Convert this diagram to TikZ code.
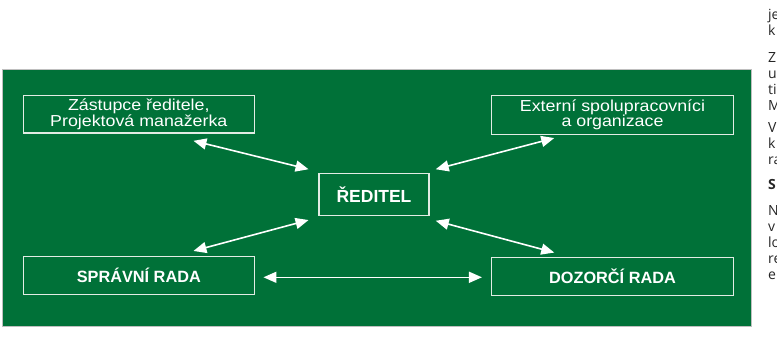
\documentclass[tikz,border=0pt]{standalone}
\usepackage{fontspec}
\setmainfont{Liberation Sans}
\newfontfamily\wideface[FakeStretch=1.12]{Liberation Sans}
\newfontfamily\bodyface{Open Sans}
\usetikzlibrary{arrows.meta}
\definecolor{bggreen}{RGB}{0,113,56}
\definecolor{lineclr}{RGB}{226,236,228}
\begin{document}
\begin{tikzpicture}[x=1pt,y=-1pt,
  box/.style={draw=lineclr,line width=1.5pt,text=white,inner sep=0pt,align=center},
  plainbox/.style={box,font=\wideface\fontsize{15.9}{15.3}\selectfont},
  boldbox/.style={box,font=\bfseries\fontsize{16.3}{18}\selectfont},
  link/.style={draw=white,line width=1.6pt,{Triangle[length=13pt,width=11pt]}-{Triangle[length=13pt,width=11pt]}},
  frag/.style={anchor=base west,inner sep=0pt,font=\bodyface\fontsize{14}{15}\selectfont,text=black!85}]
\useasboundingbox (0,0) rectangle (777,338);
\fill[bggreen] (3,70) rectangle (751,326);
\draw[black!25,line width=0.6pt] (2.7,69.7) rectangle (751.3,326.3);

\node[plainbox,minimum width=231pt,minimum height=37.7pt] (zast) at (138.8,114.2)
  {Zástupce ředitele,\\Projektová manažerka};
\node[plainbox,minimum width=241.6pt,minimum height=38.6pt] (ext) at (612.5,115)
  {Externí spolupracovníci\\a organizace};
\node[boldbox,minimum width=110pt,minimum height=42.4pt,font=\bfseries\fontsize{17.5}{18}\selectfont] (red) at (374,194.5) {ŘEDITEL};
\node[boldbox,minimum width=231pt,minimum height=37.6pt] (sprav) at (138.8,275.5) {SPRÁVNÍ RADA};
\node[boldbox,minimum width=241.6pt,minimum height=38pt] (doz) at (612.5,276.3) {DOZORČÍ RADA};

\draw[link] ([shift={(-61.6,7)}]zast.south east) -- ([shift={(-9.7,-3.3)}]red.north west);
\draw[link] ([shift={(-61.6,-5)}]sprav.north east) -- ([shift={(-9.7,3.6)}]red.south west);
\draw[link] ([shift={(63.3,3)}]ext.south west) -- ([shift={(6,-3.3)}]red.north east);
\draw[link] ([shift={(6,4.3)}]red.south east) -- ([shift={(63.3,-4)}]doz.north west);
\draw[link] ([shift={(8.4,1.8)}]sprav.east) -- ([shift={(-9,1)}]doz.west);

\node[frag] (f1) at (768,19) {je};
\node[frag] (f2) at (768,35) {k};
\node[frag] (f3) at (768,62) {Z};
\node[frag] (f4) at (768,78) {u};
\node[frag] (f5) at (768,94) {ti};
\node[frag] (f6) at (768,110) {M};
\node[frag] (f7) at (768,132) {V};
\node[frag] (f8) at (768,148) {k};
\node[frag] (f9) at (768,164) {ra};
\node[frag,font=\bodyface\bfseries\fontsize{14}{15}\selectfont] (f10) at (768,189) {S};
\node[frag] (f11) at (768,215) {N};
\node[frag] (f12) at (768,231) {v};
\node[frag] (f13) at (768,247) {lo};
\node[frag] (f14) at (768,263) {re};
\node[frag] (f15) at (768,279) {e};
\end{tikzpicture}
\end{document}
